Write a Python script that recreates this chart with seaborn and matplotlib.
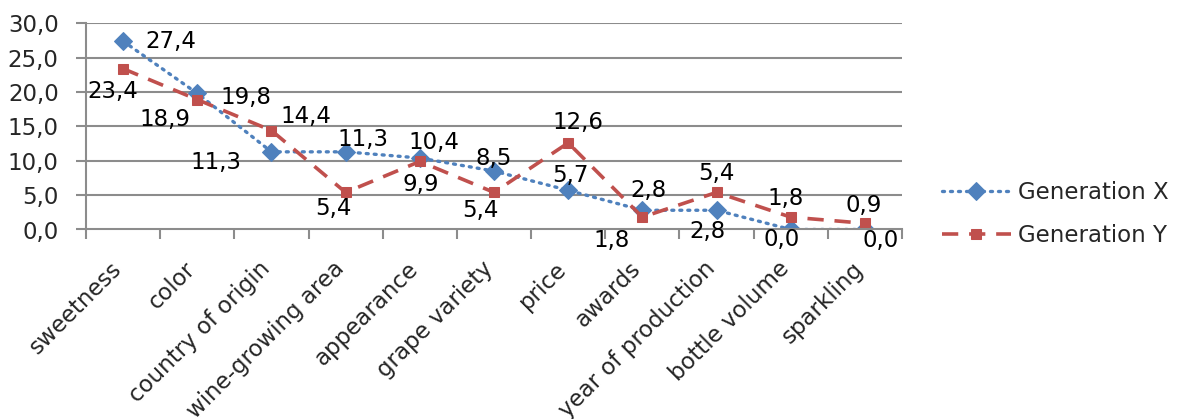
import matplotlib
matplotlib.use("Agg")
import matplotlib.pyplot as plt
from matplotlib.ticker import FixedLocator, FuncFormatter
from matplotlib.transforms import ScaledTranslation
import seaborn as sns
import pandas as pd
import numpy as np

categories = ["sweetness", "color", "country of origin", "wine-growing area",
              "appearance", "grape variety", "price", "awards",
              "year of production", "bottle volume", "sparkling"]
gen_x = [27.4, 19.8, 11.3, 11.3, 10.4, 8.5, 5.7, 2.8, 2.8, 0.0, 0.0]
gen_y = [23.4, 18.9, 14.4, 5.4, 9.9, 5.4, 12.6, 1.8, 5.4, 1.8, 0.9]
y_ticks = [0, 5, 10, 15, 20, 25, 30]

# data-label offsets in pixels (dx, dy; dy positive = up)
off_x = [(48, 0), (49, -4), (-56, -11), (17, 12), (14, 16), (0, 13),
         (2, 15), (6, 20), (-9, -21), (-9, -10), (16, -11)]
off_y = [(-10, -23), (-32, -20), (34, 14), (-12, -16), (1, -23), (-14, -18),
         (10, 20), (-31, -23), (0, 19), (-5, 19), (-1, 18)]

sns.set_style("white")
plt.rcParams["font.family"] = ["DejaVu Sans"]
FS = 16.5
GRID = "#8C8C8C"

fig = plt.figure(figsize=(11.79, 4.19), dpi=100)
ax = fig.add_axes([86 / 1179, 1 - 229.5 / 419, 816 / 1179, (229.5 - 23.3) / 419])

df = pd.DataFrame({
    "category": categories * 2,
    "value": gen_x + gen_y,
    "series": ["Generation X"] * len(categories) + ["Generation Y"] * len(categories),
})
df["pos"] = np.tile(np.arange(len(categories)), 2)

blue = "#4F81BD"
red = "#C0504D"

sub_x = df[df["series"] == "Generation X"]
sub_y = df[df["series"] == "Generation Y"]
sns.lineplot(data=sub_x, x="pos", y="value", ax=ax, color=blue, lw=2.4,
             linestyle=(0, (0.6, 1.8)), dash_capstyle="round",
             marker="D", markersize=9, markeredgecolor=blue, label="Generation X",
             sort=False)
sns.lineplot(data=sub_y, x="pos", y="value", ax=ax, color=red, lw=2.6,
             linestyle=(0, (4.5, 3.0)), marker="s", markersize=7,
             markeredgecolor=red, label="Generation Y", sort=False)

ax.set_xlim(-0.5, len(categories) - 0.5)
ax.set_ylim(0, 30)
ax.set_xlabel("")
ax.set_ylabel("")

fmt = lambda v: f"{v:.1f}".replace(".", ",")

# gridlines and axes
ax.yaxis.set_major_locator(FixedLocator(y_ticks))
ax.yaxis.set_major_formatter(FuncFormatter(lambda v, p: fmt(v)))
ax.grid(False)
for t in y_ticks[1:]:
    ax.axhline(t, color=GRID, lw=1.5, zorder=0)
for s in ["top", "right"]:
    ax.spines[s].set_visible(False)
for s in ["left", "bottom"]:
    ax.spines[s].set_color(GRID)
    ax.spines[s].set_linewidth(1.5)
ax.tick_params(axis="y", direction="out", length=7.2, width=1.5, color=GRID,
               pad=12.5, labelsize=FS, left=True)

ax.set_xticks(np.arange(len(categories)))
ax.set_xticklabels(categories, rotation=45, ha="right", va="top",
                   rotation_mode="anchor", fontsize=FS)
ax.tick_params(axis="x", which="major", length=0, pad=20)
ax.set_xticks(np.arange(-0.5, len(categories)), minor=True)
ax.tick_params(axis="x", which="minor", direction="out", length=7, width=1.5,
               color=GRID, bottom=True)
shift = ScaledTranslation(-13 / 100, 0, fig.dpi_scale_trans)
for lab in ax.get_xticklabels():
    lab.set_transform(lab.get_transform() + shift)

# data labels
for i, v in enumerate(gen_x):
    ax.annotate(fmt(v), (i, v), xytext=off_x[i], textcoords="offset pixels",
                ha="center", va="center", fontsize=FS, color="black")
for i, v in enumerate(gen_y):
    ax.annotate(fmt(v), (i, v), xytext=off_y[i], textcoords="offset pixels",
                ha="center", va="center", fontsize=FS, color="black")

ax.legend(loc="center left", bbox_to_anchor=(942 / 1179, 1 - 214 / 419),
          bbox_transform=fig.transFigure, frameon=False, fontsize=FS,
          handlelength=3.0, handletextpad=0.3, labelspacing=0.85,
          borderpad=0, borderaxespad=0)

fig.savefig("out.png", dpi=100)
